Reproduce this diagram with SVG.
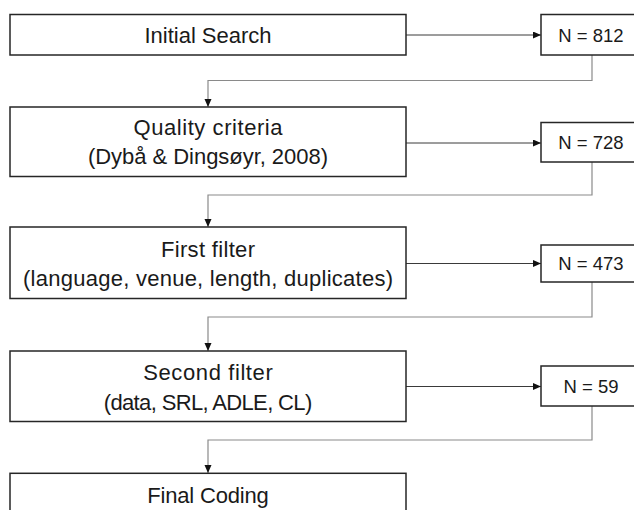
<svg xmlns="http://www.w3.org/2000/svg" width="634" height="510" viewBox="0 0 634 510">
<defs>
<style>
.box{fill:#fff;stroke:#262626;stroke-width:1.5}
.t{font-family:"Liberation Sans",Arial,sans-serif;font-size:22px;fill:#1a1a1a;text-anchor:middle}
.n{font-family:"Liberation Sans",Arial,sans-serif;font-size:18.5px;fill:#1a1a1a;text-anchor:middle}
.h{fill:none;stroke:#3a3a3a;stroke-width:1}
.c{fill:none;stroke:#8a8a8a;stroke-width:1.2}
</style>
<marker id="ah" markerUnits="userSpaceOnUse" markerWidth="9" markerHeight="8" refX="8" refY="3.5" orient="auto">
<path d="M0,0 L8,3.5 L0,7 z" fill="#111"/>
</marker>
</defs>
<rect width="634" height="510" fill="#fff"/>
<g id="connectors">
<path class="h" d="M406 35 H541" marker-end="url(#ah)"/>
<path class="c" d="M592 55 V80.5 H208 V107" marker-end="url(#ah)"/>
<path class="h" d="M406 143 H541" marker-end="url(#ah)"/>
<path class="c" d="M592 162 V195 H208 V227" marker-end="url(#ah)"/>
<path class="h" d="M406 263.5 H541" marker-end="url(#ah)"/>
<path class="c" d="M592 282 V317 H208 V351" marker-end="url(#ah)"/>
<path class="h" d="M406 386.5 H541" marker-end="url(#ah)"/>
<path class="c" d="M592 406 V440 H208 V473" marker-end="url(#ah)"/>
</g>
<g id="initial-search">
<rect class="box" x="10" y="14.5" width="396" height="40.5"/>
<text class="t" x="208" y="42.5" textLength="127">Initial Search</text>
</g>
<g id="n812">
<rect class="box" x="541" y="14.5" width="100" height="40.5"/>
<text class="n" x="591" y="41.7">N = 812</text>
</g>
<g id="quality-criteria">
<rect class="box" x="10" y="107" width="396" height="69.5"/>
<text class="t" x="208" y="134.5" textLength="149">Quality criteria</text>
<text class="t" x="208" y="163.5" textLength="240">(Dybå &amp; Dingsøyr, 2008)</text>
</g>
<g id="n728">
<rect class="box" x="541" y="122.5" width="100" height="39.5"/>
<text class="n" x="591" y="149">N = 728</text>
</g>
<g id="first-filter">
<rect class="box" x="10" y="227" width="396" height="71.5"/>
<text class="t" x="208" y="256.5" textLength="94">First filter</text>
<text class="t" x="208" y="285.5" textLength="370">(language, venue, length, duplicates)</text>
</g>
<g id="n473">
<rect class="box" x="541" y="245" width="100" height="37"/>
<text class="n" x="591" y="270">N = 473</text>
</g>
<g id="second-filter">
<rect class="box" x="10" y="351" width="396" height="70.5"/>
<text class="t" x="208" y="380" textLength="129.5">Second filter</text>
<text class="t" x="208" y="410" textLength="208.5">(data, SRL, ADLE, CL)</text>
</g>
<g id="n59">
<rect class="box" x="541" y="366" width="100" height="40"/>
<text class="n" x="591" y="392.5">N = 59</text>
</g>
<g id="final-coding">
<rect class="box" x="10" y="473.3" width="396" height="60"/>
<text class="t" x="208" y="502.7" textLength="121.6">Final Coding</text>
</g>
</svg>
